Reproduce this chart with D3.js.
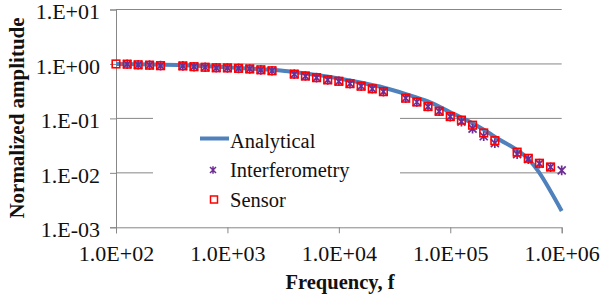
<!DOCTYPE html>
<html><head><meta charset="utf-8">
<script src="https://cdn.jsdelivr.net/npm/d3@7"></script>
<style>body{margin:0;background:#fff}svg{display:block}text{font-family:'Liberation Serif','Times New Roman',serif}</style>
</head><body>
<script>
const freqs = [100, 126, 158, 200, 251, 398, 501, 631, 794, 1000, 1259, 1585, 1995, 2512, 3981, 5012, 6310, 7943, 10000, 12589, 15849, 19953, 25119, 39811, 50119, 63096, 79433, 100000, 125893, 158489, 199526, 251189, 398107, 501187, 630957, 794328, 1000000];
const interferometry = [null, 0.99, 0.965, 0.95, 0.93, 0.92, 0.89, 0.87, 0.85, 0.845, 0.83, 0.81, 0.78, 0.75, 0.65, 0.60, 0.56, 0.51, 0.48, 0.435, 0.39, 0.35, 0.31, 0.235, 0.20, 0.165, 0.135, 0.108, 0.087, 0.065, 0.047, 0.035, 0.022, 0.0178, 0.0148, 0.0127, 0.0111];
const sensor = [1.0, 0.99, 0.965, 0.95, 0.93, 0.92, 0.89, 0.87, 0.85, 0.845, 0.83, 0.81, 0.78, 0.75, 0.65, 0.60, 0.56, 0.51, 0.48, 0.435, 0.39, 0.35, 0.31, 0.235, 0.20, 0.165, 0.135, 0.108, 0.093, 0.075, 0.054, 0.039, 0.024, 0.0185, 0.015, 0.0128, null];
const analyticFreq = [100, 200, 400, 1000, 2000, 3000, 4000, 6300, 10000, 16000, 25000, 40000, 63000, 100000, 140000, 200000, 280000, 400000, 500000, 620000, 790000, 1000000];
const analytical = [1.0, 0.98, 0.95, 0.87, 0.80, 0.76, 0.71, 0.63, 0.54, 0.45, 0.37, 0.28, 0.205, 0.13, 0.093, 0.062, 0.040, 0.026, 0.018, 0.0105, 0.0047, 0.002];
const xTicks = [1e2, 1e3, 1e4, 1e5, 1e6];
const xTickLabels = ["1.0E+02", "1.0E+03", "1.0E+04", "1.0E+05", "1.0E+06"];
const yTicks = [1e1, 1e0, 1e-1, 1e-2, 1e-3];
const yTickLabels = ["1.E+01", "1.E+00", "1.E-01", "1.E-02", "1.E-03"];
const seriesNames = ["Analytical", "Interferometry", "Sensor"];

const W = 603, H = 301;
const X0 = 116, X1 = 561.7, YT = 9.5, YB = 227.3;
const gridColor = "#878787", blue = "#4F81BD", purple = "#6E2C95", red = "#FF0000";
const font = "'Liberation Serif','Times New Roman',serif";

const svg = d3.select("body").append("svg").attr("width", W).attr("height", H);
svg.append("rect").attr("width", W).attr("height", H).attr("fill", "#fff");

const x = d3.scaleLog().domain([1e2, 1e6]).range([X0, X1]);
const y = d3.scaleLog().domain([1e-3, 1e1]).range([YB, YT]);

// gridlines
svg.append("g").selectAll("line").data(yTicks.slice(0, 4)).join("line")
  .attr("x1", X0).attr("x2", X1).attr("y1", d => y(d)).attr("y2", d => y(d))
  .attr("stroke", gridColor).attr("stroke-width", 1);

// y axis
const yAxis = d3.axisLeft(y).tickValues(yTicks).tickFormat((d, i) => yTickLabels[i]).tickSizeOuter(0).tickSize(6).tickPadding(10);
const gy = svg.append("g").attr("transform", `translate(${X0},0)`).call(yAxis).attr("font-family", font);
gy.select(".domain").attr("stroke", gridColor);
gy.selectAll(".tick line").attr("stroke", gridColor);
gy.selectAll("text").style("font-family", font).attr("font-size", 22).attr("fill", "#111").attr("dy", "0.42em");

// x axis
const xAxis = d3.axisBottom(x).tickValues(xTicks).tickFormat((d, i) => xTickLabels[i]).tickSizeOuter(0).tickSize(6).tickPadding(12);
const gx = svg.append("g").attr("transform", `translate(0,${YB})`).call(xAxis).attr("font-family", font);
gx.select(".domain").attr("stroke", gridColor);
gx.selectAll(".tick line").attr("stroke", gridColor);
gx.selectAll("text").style("font-family", font).attr("font-size", 22).attr("fill", "#111");

// legend background (hides gridlines)
svg.append("rect").attr("x", 153).attr("y", 112).attr("width", 247).attr("height", 106).attr("fill", "#fff");

// analytical curve
const line = d3.line().x(d => x(d[0])).y(d => y(d[1])).curve(d3.curveMonotoneX);
svg.append("path").datum(analyticFreq.map((f, i) => [f, analytical[i]]))
  .attr("d", line).attr("fill", "none").attr("stroke", blue).attr("stroke-width", 4);

const starPath = s => `M${-s},${-s}L${s},${s}M${-s},${s}L${s},${-s}M0,${-s - 0.8}L0,${s + 0.8}`;

// interferometry stars
const iData = freqs.map((f, i) => [f, interferometry[i]]).filter(d => d[1] != null);
svg.append("g").selectAll("path").data(iData).join("path")
  .attr("transform", d => `translate(${x(d[0])},${y(d[1])})`)
  .attr("d", starPath(4)).attr("stroke", purple).attr("stroke-width", 1.7).attr("fill", "none");

// sensor squares
const sData = freqs.map((f, i) => [f, sensor[i]]).filter(d => d[1] != null);
svg.append("g").selectAll("rect").data(sData).join("rect")
  .attr("x", d => x(d[0]) - 3.8).attr("y", d => y(d[1]) - 3.8)
  .attr("width", 7.6).attr("height", 7.6)
  .attr("fill", "none").attr("stroke", red).attr("stroke-width", 1.6);

// legend
const lg = svg.append("g");
lg.append("line").attr("x1", 200).attr("x2", 229).attr("y1", 138.5).attr("y2", 138.5).attr("stroke", blue).attr("stroke-width", 4);
lg.append("path").attr("transform", "translate(213,170)").attr("d", starPath(3)).attr("stroke", purple).attr("stroke-width", 1.5).attr("fill", "none");
lg.append("rect").attr("x", 210.5).attr("y", 196).attr("width", 7).attr("height", 7).attr("fill", "none").attr("stroke", red).attr("stroke-width", 1.5);
const lyBase = [147.5, 177, 206.8];
lg.selectAll("text").data(seriesNames).join("text")
  .attr("x", 230).attr("y", (d, i) => lyBase[i])
  .style("font-family", font).attr("font-size", 20.5).attr("fill", "#111").text(d => d);

// axis titles
svg.append("text").attr("x", 340).attr("y", 288.5).attr("text-anchor", "middle")
  .style("font-family", font).attr("font-weight", "bold").attr("font-size", 20.5).attr("fill", "#111").text("Frequency, f");
svg.append("text").attr("transform", "translate(24,118) rotate(-90)").attr("text-anchor", "middle")
  .style("font-family", font).attr("font-weight", "bold").attr("font-size", 21).attr("fill", "#111").text("Normalized amplitude");
</script>
</body></html>
